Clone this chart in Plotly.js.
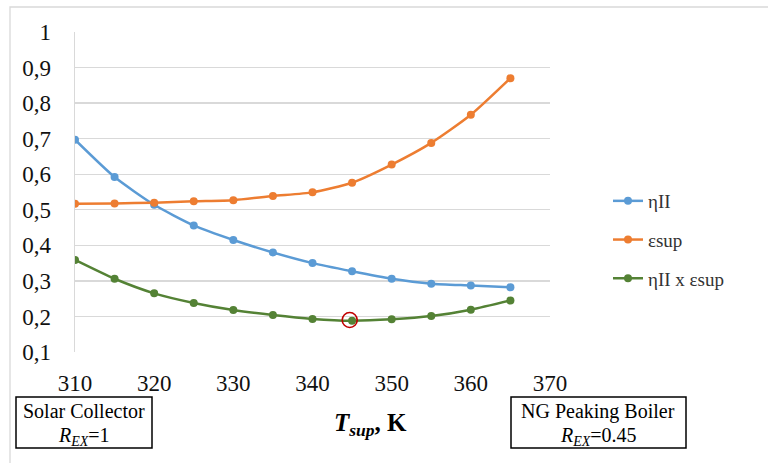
<!DOCTYPE html>
<html>
<head>
<meta charset="utf-8">
<script src="https://cdn.plot.ly/plotly-3.0.1.min.js"></script>
<style>html,body{margin:0;padding:0;background:#fff;}#chart{width:768px;height:463px;}</style>
</head>
<body>
<div id="chart"></div>
<script>
const tsup = [310, 315, 320, 325, 330, 335, 340, 345, 350, 355, 360, 365];
const etaII = [0.697, 0.592, 0.514, 0.456, 0.415, 0.380, 0.350, 0.327, 0.306, 0.292, 0.287, 0.282];
const epsSup = [0.517, 0.518, 0.520, 0.524, 0.527, 0.539, 0.549, 0.576, 0.627, 0.688, 0.767, 0.870];
const product = [0.359, 0.306, 0.265, 0.238, 0.218, 0.204, 0.193, 0.188, 0.192, 0.201, 0.219, 0.245];
const optimumX = [344.7];
const optimumY = [0.19];
const seriesNames = ['ηII', 'εsup', 'ηII x εsup'];
const seriesColors = ['#5B9BD5', '#ED7D31', '#548235'];
const xTitle = '<b><i>T</i><sub><i>sup</i></sub>, K</b>';
const leftBox = ['Solar Collector', '<i>R</i><sub><i>EX</i></sub>=1'];
const rightBox = ['NG Peaking Boiler', '<i>R</i><sub><i>EX</i></sub>=0.45'];

const serif = "'Liberation Serif', 'Times New Roman', serif";
const ys = [etaII, epsSup, product];
const traces = ys.map((y, i) => ({
  x: tsup, y: y, name: seriesNames[i], type: 'scatter', mode: 'lines+markers',
  line: {color: seriesColors[i], width: 2.5, shape: 'spline', smoothing: 0.6},
  marker: {color: seriesColors[i], size: 8},
  legendgroup: 'g' + i
}));
traces.push({
  x: optimumX, y: optimumY, type: 'scatter', mode: 'markers', showlegend: false,
  marker: {symbol: 'circle-open', size: 15, color: '#C00000', line: {width: 1.6, color: '#C00000'}},
  hoverinfo: 'skip'
});

const px = v => (v - 75) / 475;
const py = v => (352 - v) / 320;

const layout = {
  width: 768, height: 463,
  margin: {l: 75, r: 218, t: 32, b: 111},
  paper_bgcolor: '#fff', plot_bgcolor: '#fff',
  separators: ',.',
  font: {family: serif, color: '#222'},
  showlegend: true,
  legend: {x: px(608), y: py(182), xanchor: 'left', yanchor: 'top',
    font: {family: serif, size: 19, color: '#333'}, tracegroupgap: 11, bgcolor: 'rgba(0,0,0,0)'},
  xaxis: {range: [310, 370], dtick: 10, tick0: 310, showgrid: false, zeroline: false,
    showline: false, ticks: '', ticklabelstandoff: 15,
    tickfont: {family: serif, size: 23, color: '#111'}},
  yaxis: {range: [0.1, 1], dtick: 0.1, tick0: 0.1, showgrid: true, gridcolor: '#d9d9d9', gridwidth: 1.3,
    zeroline: false, showline: true, linecolor: '#d9d9d9', linewidth: 1.3, ticks: '', ticklabelstandoff: 18,
    tickfont: {family: serif, size: 23, color: '#111'}},
  shapes: [
    {type: 'rect', xref: 'paper', yref: 'paper', x0: px(10), x1: px(800), y0: py(480), y1: py(7),
      line: {color: '#d9d9d9', width: 1.3}, layer: 'below'},
    {type: 'rect', xref: 'paper', yref: 'paper', x0: px(16), x1: px(152), y0: py(448), y1: py(397),
      line: {color: '#000', width: 1.5}},
    {type: 'rect', xref: 'paper', yref: 'paper', x0: px(511), x1: px(686), y0: py(448), y1: py(397),
      line: {color: '#000', width: 1.5}}
  ],
  annotations: [
    {text: xTitle, xref: 'paper', yref: 'paper', x: px(370), y: py(424), showarrow: false,
      xanchor: 'center', yanchor: 'middle', font: {family: serif, size: 25, color: '#000'}},
    {text: leftBox[0], xref: 'paper', yref: 'paper', x: px(84), y: py(411), showarrow: false,
      xanchor: 'center', yanchor: 'middle', font: {family: serif, size: 20, color: '#000'}},
    {text: leftBox[1], xref: 'paper', yref: 'paper', x: px(84), y: py(436), showarrow: false,
      xanchor: 'center', yanchor: 'middle', font: {family: serif, size: 20, color: '#000'}},
    {text: rightBox[0], xref: 'paper', yref: 'paper', x: px(598), y: py(411), showarrow: false,
      xanchor: 'center', yanchor: 'middle', font: {family: serif, size: 20, color: '#000'}},
    {text: rightBox[1], xref: 'paper', yref: 'paper', x: px(598), y: py(436), showarrow: false,
      xanchor: 'center', yanchor: 'middle', font: {family: serif, size: 20, color: '#000'}}
  ]
};

Plotly.newPlot('chart', traces, layout, {displayModeBar: false, staticPlot: true});
</script>
</body>
</html>
